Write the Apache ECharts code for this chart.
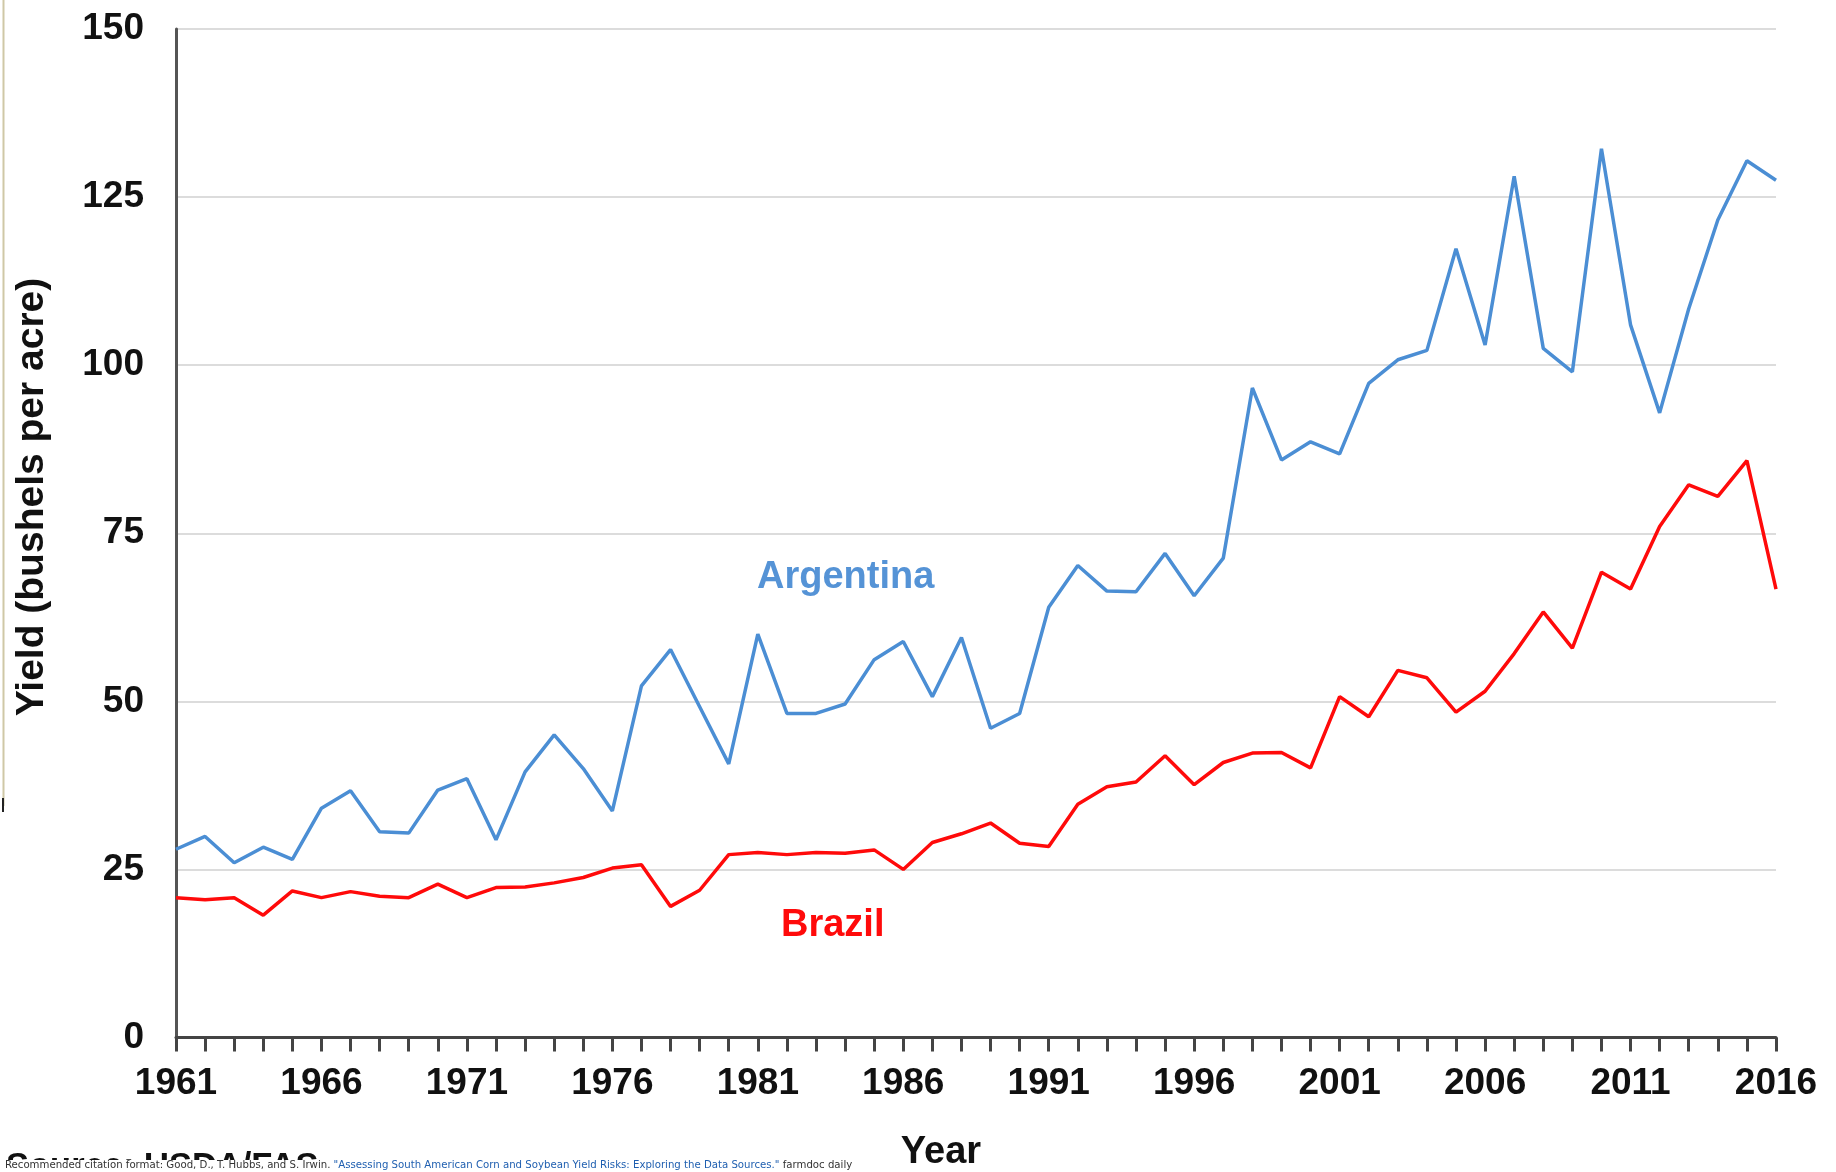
<!DOCTYPE html>
<html>
<head>
<meta charset="utf-8">
<script src="https://cdn.jsdelivr.net/npm/echarts@6/dist/echarts.min.js"></script>
<style>
  html, body { margin: 0; padding: 0; background: #fff; }
  #chart { width: 1836px; height: 1172px; }
</style>
</head>
<body>
<div id="chart"></div>
<script>
// soybean yield, bushels per acre
const years = []
for (let y = 1961; y <= 2016; y++) years.push(String(y))

const argentina = [
  28.0, 29.9, 26.0, 28.3, 26.5, 34.1, 36.7, 30.6, 30.4, 36.8,
  38.5, 29.4, 39.5, 45.0, 40.0, 33.7, 52.3, 57.7, 49.2, 40.7,
  60.0, 48.2, 48.2, 49.6, 56.2, 58.9, 50.7, 59.5, 46.0, 48.2,
  64.0, 70.2, 66.4, 66.3, 72.0, 65.7, 71.3, 96.6, 85.9, 88.6,
  86.8, 97.3, 100.8, 102.2, 117.3, 103.0, 128.1, 102.5, 99.0, 132.2,
  106.0, 92.9, 108.4, 121.6, 130.4, 127.5
]

const brazil = [
  20.8, 20.5, 20.8, 18.2, 21.8, 20.8, 21.7, 21.0, 20.8, 22.8,
  20.8, 22.3, 22.4, 23.0, 23.8, 25.2, 25.7, 19.5, 21.9, 27.2,
  27.5, 27.2, 27.5, 27.4, 27.9, 25.0, 29.0, 30.3, 31.9, 28.9,
  28.4, 34.7, 37.3, 38.0, 41.9, 37.6, 40.9, 42.3, 42.4, 40.1,
  50.7, 47.7, 54.6, 53.5, 48.4, 51.5, 57.1, 63.3, 57.9, 69.2,
  66.7, 76.0, 82.2, 80.5, 85.8, 66.7
]

const yTicks = [0, 25, 50, 75, 100, 125, 150]

const FONT = '"Liberation Sans", Arial, sans-serif'
const NARROW = '"Liberation Sans Narrow", "DejaVu Sans Condensed", sans-serif'

function getOption () {
  return {
    animation: false,
    backgroundColor: '#ffffff',
    grid: { left: 176, right: 60, top: 29, bottom: 134.5 },
    xAxis: {
      type: 'category',
      data: years,
      boundaryGap: false,
      axisLine: { lineStyle: { color: '#444', width: 3 } },
      axisTick: { show: true, interval: 0, length: 14, lineStyle: { color: '#444', width: 3 } },
      axisLabel: {
        interval: 4,
        margin: 28,
        color: '#111',
        fontSize: 37,
        fontWeight: 'bold',
        fontFamily: FONT
      },
      splitLine: { show: false }
    },
    yAxis: {
      type: 'value',
      min: yTicks[0],
      max: yTicks[yTicks.length - 1],
      interval: 25,
      axisLine: { show: true, lineStyle: { color: '#555', width: 3 } },
      axisTick: { show: false },
      axisLabel: {
        margin: 32,
        color: '#111',
        fontSize: 37,
        fontWeight: 'bold',
        fontFamily: FONT
      },
      splitLine: { show: true, lineStyle: { color: '#dcdcdc', width: 2 } }
    },
    series: [
      {
        name: 'Argentina',
        type: 'line',
        data: argentina,
        symbol: 'none',
        lineStyle: { color: '#4b8ed4', width: 3.5 },
        z: 3
      },
      {
        name: 'Brazil',
        type: 'line',
        data: brazil,
        symbol: 'none',
        lineStyle: { color: '#ff0a0a', width: 3.5 },
        z: 4
      }
    ],
    graphic: [
      // left page border
      { type: 'line', shape: { x1: 3.5, y1: 0, x2: 3.5, y2: 806 }, style: { stroke: '#cfc8a6', lineWidth: 2 } },
      { type: 'line', shape: { x1: 3, y1: 798, x2: 3, y2: 812 }, style: { stroke: '#222', lineWidth: 2 } },
      {
        type: 'text', x: 32, y: 497, rotation: Math.PI / 2,
        style: {
          text: 'Yield (bushels per acre)', fill: '#111', fontSize: 39, fontWeight: 'bold',
          fontFamily: FONT, align: 'center', verticalAlign: 'middle'
        }
      },
      {
        type: 'text', x: 757, y: 578,
        style: {
          text: 'Argentina', fill: '#5593d6', fontSize: 38, fontWeight: 'bold',
          fontFamily: FONT, align: 'left', verticalAlign: 'middle'
        }
      },
      {
        type: 'text', x: 781, y: 926,
        style: {
          text: 'Brazil', fill: '#ff0a0a', fontSize: 38, fontWeight: 'bold',
          fontFamily: FONT, align: 'left', verticalAlign: 'middle'
        }
      },
      // source line, cut by the page edge
      {
        type: 'text', x: 6, y: 1150,
        style: {
          text: 'Source: USDA/FAS', fill: '#111', fontSize: 34.5, fontWeight: 'bold',
          fontFamily: FONT, align: 'left', verticalAlign: 'top'
        }
      },
      { type: 'rect', shape: { x: 0, y: 1160, width: 870, height: 12 }, style: { fill: '#fff' } },
      {
        type: 'text', x: 5, y: 1160,
        style: {
          text: '{a|Recommended citation format: Good, D., T. Hubbs, and S. Irwin. }{b|"Assessing South American Corn and Soybean Yield Risks: Exploring the Data Sources."}{a| farmdoc daily}',
          align: 'left', verticalAlign: 'top',
          rich: {
            a: { fill: '#333', fontSize: 11.3, fontFamily: NARROW },
            b: { fill: '#1f5fb0', fontSize: 11.3, fontFamily: NARROW }
          }
        }
      },
      {
        type: 'text', x: 941, y: 1153,
        style: {
          text: 'Year', fill: '#111', fontSize: 38, fontWeight: 'bold',
          fontFamily: FONT, align: 'center', verticalAlign: 'middle'
        }
      }
    ]
  }
}

const chart = echarts.init(document.getElementById('chart'))
chart.setOption(getOption())
</script>
</body>
</html>
